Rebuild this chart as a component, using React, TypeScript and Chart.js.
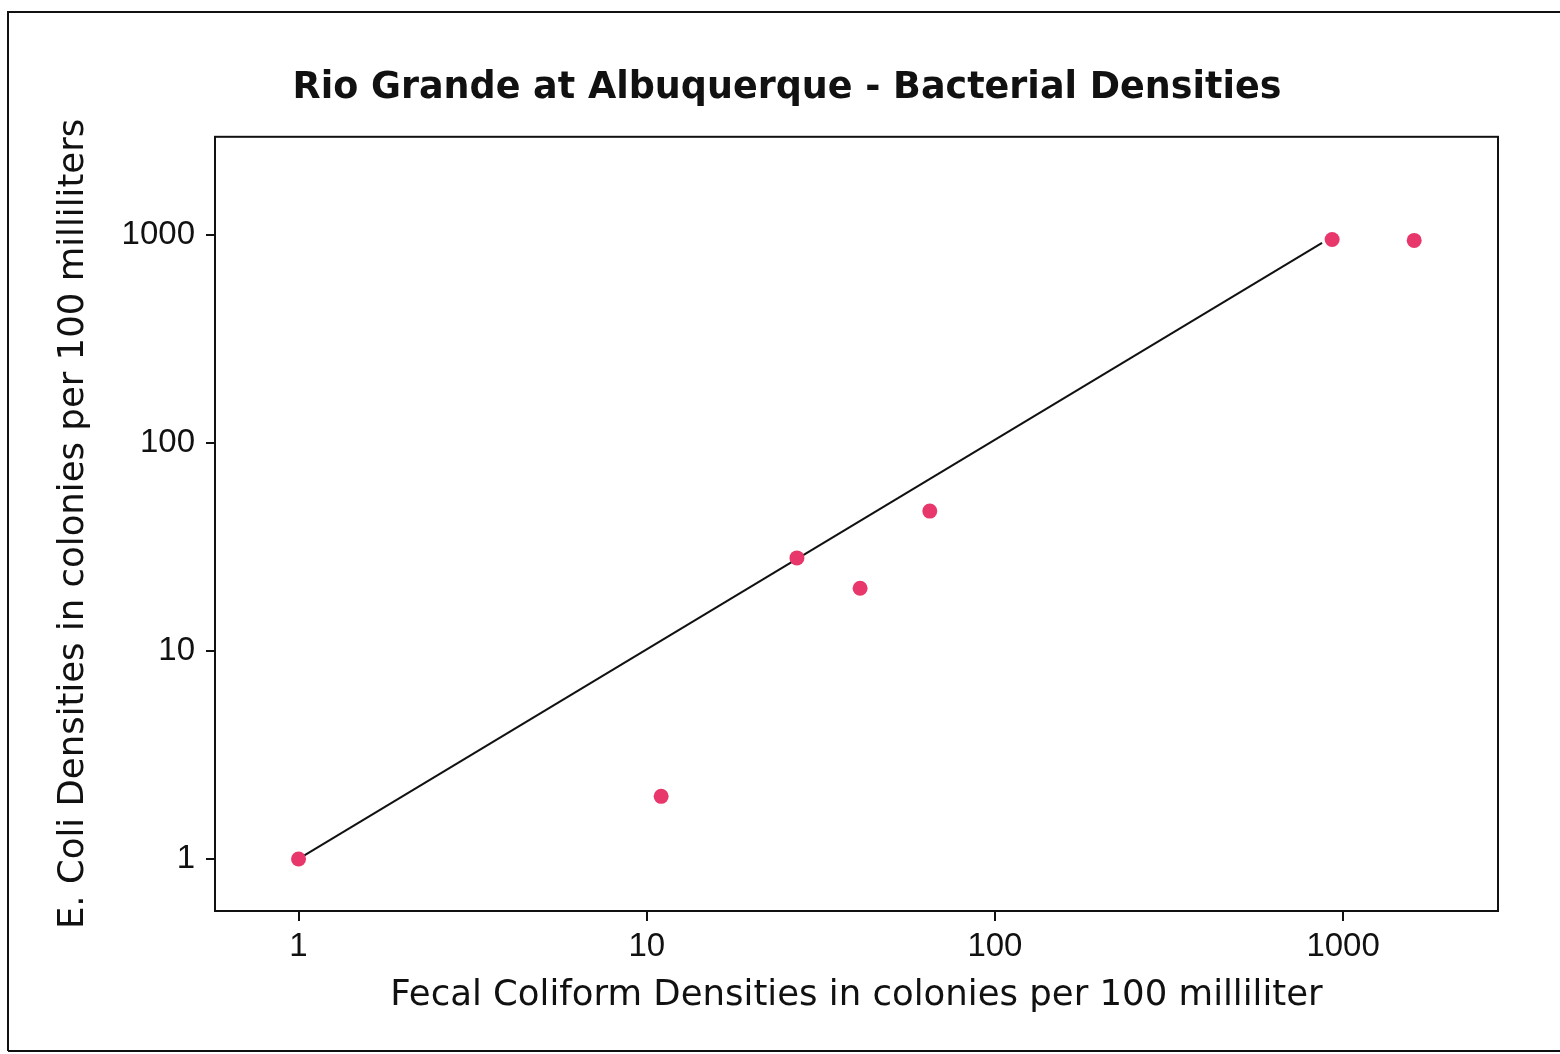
import React, { useEffect, useRef } from "react";
import { Chart, registerables } from "chart.js";

Chart.register(...registerables);

const chartTitle = "Rio Grande at Albuquerque - Bacterial Densities";
const xAxisTitle = "Fecal Coliform Densities in colonies per 100 milliliter";
const yAxisTitle = "E. Coli Densities in colonies per 100 milliliters";

const fecalColiform = [1, 11, 27, 41, 65, 930, 1600];
const eColi = [1, 2, 28, 20, 47, 950, 940];

const fitLineX = [1, 870];
const fitLineY = [1, 915];

const tickValues = [1, 10, 100, 1000];

const xRange = [0.5755, 2785];
const yRange = [0.5623, 2958];

const framePlugin = {
  id: "framePlugin",
  beforeDraw(chart: any) {
    const ctx = chart.ctx;
    ctx.save();
    ctx.fillStyle = "#ffffff";
    ctx.fillRect(0, 0, chart.width, chart.height);
    ctx.restore();
  },
  afterDraw(chart: any) {
    const ctx = chart.ctx;
    const a = chart.chartArea;
    ctx.save();
    ctx.strokeStyle = "#111111";
    ctx.lineWidth = 2;
    ctx.strokeRect(a.left, a.top, a.right - a.left, a.bottom - a.top);
    ctx.beginPath();
    ctx.moveTo(8, 1051);
    ctx.lineTo(8, 12);
    ctx.lineTo(chart.width, 12);
    ctx.moveTo(8, 1051);
    ctx.lineTo(chart.width, 1051);
    ctx.stroke();
    ctx.restore();
  },
};

export default function App() {
  const ref = useRef<HTMLCanvasElement | null>(null);

  useEffect(() => {
    if (!ref.current) return;
    const points = fecalColiform.map((x, i) => ({ x, y: eColi[i] }));
    const line = fitLineX.map((x, i) => ({ x, y: fitLineY[i] }));
    const tickFont = { family: "Liberation Sans", size: 33, weight: "normal" as any };
    const titleFont = { family: "DejaVu Sans", size: 35.5, weight: "normal" as any };

    const chart = new Chart(ref.current, {
      type: "scatter",
      data: {
        datasets: [
          {
            type: "line" as any,
            label: "fit",
            data: line,
            borderColor: "#111111",
            borderWidth: 2,
            pointRadius: 0,
            fill: false,
            order: 2,
          },
          {
            label: "samples",
            data: points,
            backgroundColor: "#e8386b",
            borderColor: "#e8386b",
            pointRadius: 7.5,
            borderWidth: 0,
            order: 1,
          },
        ],
      },
      options: {
        responsive: false,
        animation: false,
        layout: { padding: { left: 14, top: 0, right: 0, bottom: 0 } },
        plugins: {
          legend: { display: false },
          tooltip: { enabled: false },
          title: {
            display: true,
            text: chartTitle,
            color: "#111111",
            font: { family: "DejaVu Sans", size: 36.5, weight: "bold" },
            padding: { top: 67, bottom: 26 },
          },
        },
        scales: {
          x: {
            type: "logarithmic",
            min: xRange[0],
            max: xRange[1],
            afterBuildTicks: (s: any) => {
              s.ticks = tickValues.map((v) => ({ value: v }));
            },
            afterFit: (s: any) => {
              s.height = 143;
            },
            ticks: {
              color: "#111111",
              font: tickFont,
              padding: 6,
              maxRotation: 0,
              autoSkip: false,
              callback: (v: any) => String(v),
            },
            grid: {
              drawOnChartArea: false,
              drawTicks: true,
              tickLength: 10,
              color: "#111111",
              lineWidth: 2,
            },
            border: { display: false },
            title: {
              display: true,
              text: xAxisTitle,
              color: "#111111",
              font: titleFont,
              padding: { top: 0, bottom: 37 },
            },
          },
          y: {
            type: "logarithmic",
            min: yRange[0],
            max: yRange[1],
            afterBuildTicks: (s: any) => {
              s.ticks = tickValues.map((v) => ({ value: v }));
            },
            afterFit: (s: any) => {
              s.width = 201;
            },
            ticks: {
              color: "#111111",
              font: tickFont,
              padding: 11,
              autoSkip: false,
              callback: (v: any) => String(v),
            },
            grid: {
              drawOnChartArea: false,
              drawTicks: true,
              tickLength: 9,
              color: "#111111",
              lineWidth: 2,
            },
            border: { display: false },
            title: {
              display: true,
              text: yAxisTitle,
              color: "#111111",
              font: titleFont,
              padding: { top: 38, bottom: 0 },
            },
          },
          yRight: {
            type: "linear",
            position: "right",
            display: true,
            grid: { display: false, drawTicks: false },
            ticks: { display: false },
            border: { display: false },
            afterFit: (s: any) => {
              s.width = 62;
            },
          },
        },
      },
      plugins: [framePlugin],
    });
    return () => chart.destroy();
  }, []);

  return (
    <div style={{ position: "absolute", left: 0, top: 0, width: 1560, height: 1054, background: "#fff" }}>
      <canvas ref={ref} width={1560} height={1054} style={{ display: "block" }} />
    </div>
  );
}
